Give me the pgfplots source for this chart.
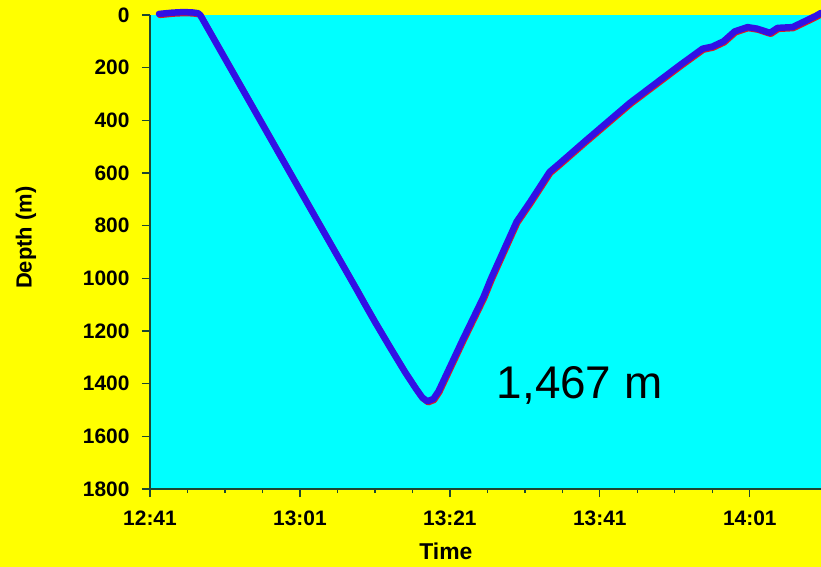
\documentclass[border=0pt]{standalone}
\usepackage{pgfplots}
\pgfplotsset{compat=1.18}
\usepackage{pgfplotstable}
\usepackage{fontspec}
\setmainfont{Liberation Sans}
\definecolor{bgyellow}{RGB}{255,255,0}
\definecolor{plotcyan}{RGB}{0,255,255}
\definecolor{divecol}{RGB}{48,16,230}
\definecolor{redcol}{RGB}{220,30,30}
\definecolor{axcol}{RGB}{30,70,50}
% time in minutes after 12:41, depth in m
\pgfplotstableread{
t d
1.2 -4
3.0 -9
4.4 -11
5.6 -10
6.4 -7
6.7 0
12.0 265
17.0 515
22.7 800
27.6 1044
28.5 1090
30.0 1165
32.0 1261
34.0 1355
35.5 1420
36.3 1452
37.0 1467
37.8 1458
38.5 1428
41.7 1234
44.5 1070
45.5 1000
48.9 785
50.7 710
53.3 596
54.7 562
58.0 480
64.0 334
70.7 190
73.7 128
75.0 120
76.5 100
78.0 62
79.7 46
81.0 52
82.7 68
83.7 49
85.7 46
87.1 27
88.9 2
89.5 -8
}\dive
\begin{document}
\begin{tikzpicture}
\fill[bgyellow] (-150bp,-78bp) rectangle (671bp,489bp);
\useasboundingbox (-150bp,-78bp) rectangle (671bp,489bp);
\begin{axis}[
  at={(0,0)}, anchor=south west,
  scale only axis, width=671bp, height=474bp,
  xmin=0, xmax=89.5, ymin=0, ymax=1800, y dir=reverse,
  clip=false,
  axis x line=bottom, axis y line=left,
  axis line style={-, draw=axcol, line width=1.6bp},
  axis background/.style={fill=plotcyan},
  xtick={0,20,40,60,80},
  xticklabels={12:41,13:01,13:21,13:41,14:01},
  minor x tick num=3,
  ytick={0,200,...,1800},
  /pgf/number format/1000 sep={},
  tick align=outside,
  major tick length=8bp, minor tick length=4bp,
  tick style={draw=axcol, line width=1.3bp},
  /pgf/number format/assume math mode=true,
  ticklabel style={font=\bfseries\fontsize{21}{21}\selectfont, text=black},
  yticklabel style={xshift=-9bp},
  xticklabel style={yshift=-10bp},
  xlabel={Time},
  ylabel={Depth (m)},
  xlabel style={font=\bfseries\fontsize{23}{23}\selectfont, at={(axis description cs:0.441,0)}, anchor=center, yshift=-62bp},
  ylabel style={font=\bfseries\fontsize{22}{22}\selectfont, at={(axis description cs:-0.185,0.53)}, anchor=center},
]
\addplot[redcol, line width=6bp, line join=round, line cap=round, yshift=-1.2bp, xshift=0.8bp] table[x=t,y=d] {\dive};
\addplot[divecol, line width=6.5bp, line join=round, line cap=round] table[x=t,y=d] {\dive};
\node[font=\fontsize{46}{46}\selectfont, text=black] at (axis cs:57.3,1405) {1,467 m};
\end{axis}
\end{tikzpicture}
\end{document}
